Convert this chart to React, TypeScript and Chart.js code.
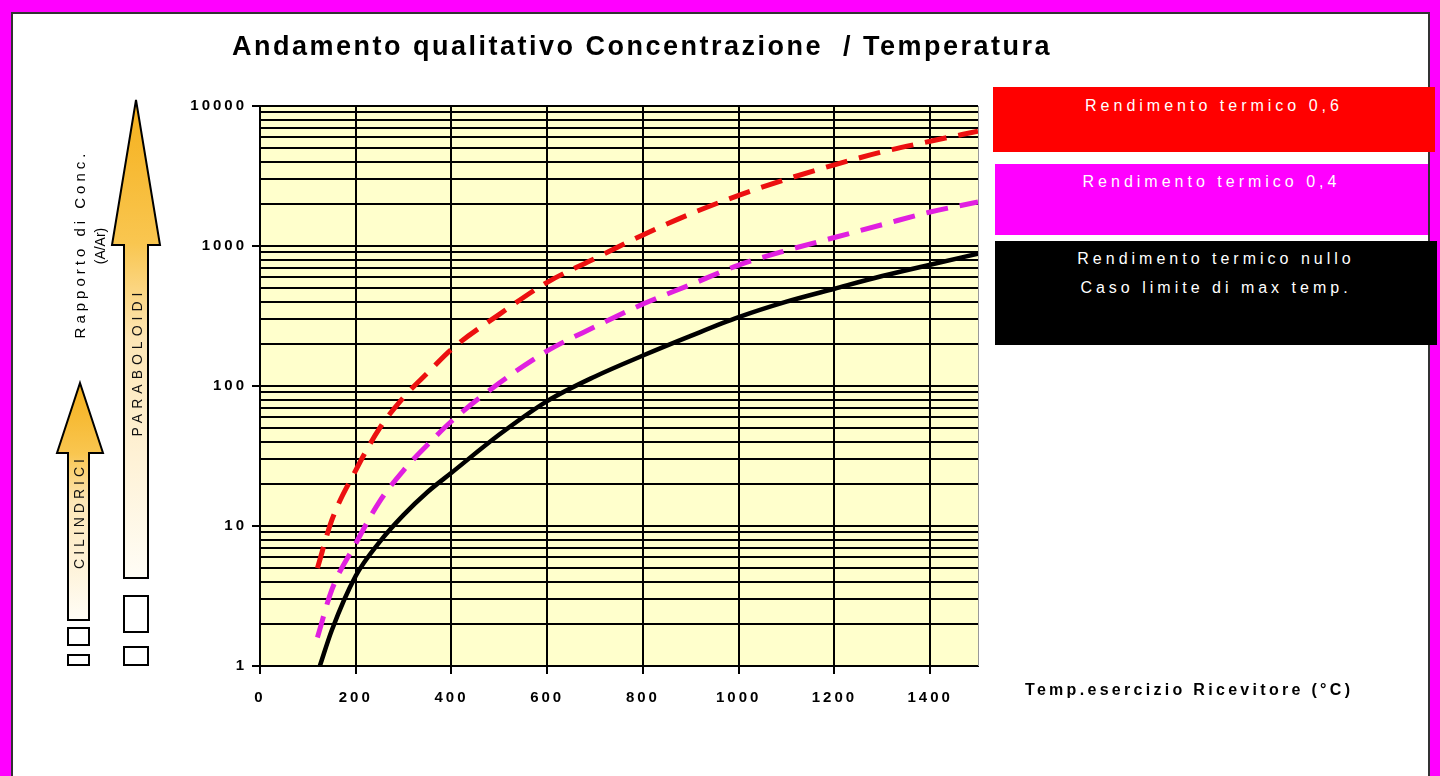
import React, { useEffect, useRef } from 'react';
import { Chart, registerables } from 'chart.js';

Chart.register(...registerables);

// ---- data ----
const tempsEff = [120, 150, 200, 250, 300, 350, 400, 500, 600, 700, 800, 900, 1000, 1100, 1200, 1300, 1400, 1500];
const rend06 = [5, 11, 25, 50, 83, 124, 183, 325, 550, 815, 1200, 1700, 2300, 3000, 3800, 4700, 5600, 6600];
const rend04 = [1.6, 3.5, 7.5, 15, 25, 38, 56, 105, 178, 265, 385, 530, 730, 930, 1150, 1420, 1750, 2060];
const tempsNull = [125, 150, 200, 250, 300, 350, 400, 500, 600, 700, 800, 900, 1000, 1100, 1200, 1300, 1400, 1500];
const rendNull = [1, 1.8, 4.4, 7.7, 12, 17.5, 24, 45, 78, 117, 165, 228, 310, 400, 495, 610, 735, 880];

const seriesLabels = ['Rendimento termico 0,6', 'Rendimento termico 0,4', 'Rendimento termico nullo'];
const seriesNotes = ['', '', 'Caso limite di max temp.'];
const legendColors = ['#ff0000', '#ff00ff', '#000000'];
const lineColors = ['#ec1010', '#e020e0', '#000000'];

const xTickLabels = [0, 200, 400, 600, 800, 1000, 1200, 1400];
const yTickLabels = [1, 10, 100, 1000, 10000];

const chartTitle = 'Andamento qualitativo Concentrazione  / Temperatura';
const xTitle = 'Temp.esercizio Ricevitore (°C)';
const yTitle = ['Rapporto di Conc.', '(A/Ar)'];
const arrowLabels = ['PARABOLOIDI', 'CILINDRICI'];

const FONT = '"Liberation Sans", Arial, sans-serif';

const isDecade = (v: number) => {
  const l = Math.log10(v);
  return Math.abs(l - Math.round(l)) < 1e-9;
};

const plotBg = {
  id: 'plotBg',
  beforeDraw(chart: any) {
    const { ctx, chartArea } = chart;
    const { left, top, right, bottom } = chartArea;
    ctx.save();
    ctx.fillStyle = '#ffffcc';
    ctx.fillRect(left, top, right - left, bottom - top);
    ctx.restore();
    (ctx as any).letterSpacing = '3px';
  },
  beforeDatasetsDraw(chart: any) {
    const { ctx, chartArea } = chart;
    const { top, right, bottom } = chartArea;
    ctx.save();
    ctx.strokeStyle = '#999';
    ctx.lineWidth = 1;
    ctx.beginPath();
    ctx.moveTo(right + 0.5, top);
    ctx.lineTo(right + 0.5, bottom);
    ctx.stroke();
    ctx.restore();
  },
};

function ChartCanvas() {
  const ref = useRef<HTMLCanvasElement | null>(null);
  useEffect(() => {
    if (!ref.current) return;
    const mk = (xs: number[], ys: number[]) => xs.map((x, i) => ({ x, y: ys[i] }));
    const chart = new Chart(ref.current, {
      type: 'line',
      data: {
        datasets: [
          {
            label: seriesLabels[2],
            data: mk(tempsNull, rendNull),
            borderColor: lineColors[2],
            borderWidth: 4.5,
            pointRadius: 0,
            cubicInterpolationMode: 'monotone',
          },
          {
            label: seriesLabels[1],
            data: mk(tempsEff, rend04),
            borderColor: lineColors[1],
            borderWidth: 5,
            borderDash: [22, 12],
            pointRadius: 0,
            cubicInterpolationMode: 'monotone',
          },
          {
            label: seriesLabels[0],
            data: mk(tempsEff, rend06),
            borderColor: lineColors[0],
            borderWidth: 5,
            borderDash: [22, 12],
            pointRadius: 0,
            cubicInterpolationMode: 'monotone',
          },
        ],
      },
      options: {
        animation: false,
        responsive: false,
        devicePixelRatio: 1,
        layout: { padding: { left: 0, top: 106, right: 462, bottom: 0 } },
        plugins: { legend: { display: false }, title: { display: false }, tooltip: { enabled: false } },
        events: [],
        scales: {
          x: {
            type: 'linear',
            min: 0,
            max: 1500,
            ticks: {
              stepSize: 200,
              includeBounds: false,
              autoSkip: false,
              maxRotation: 0,
              color: '#000',
              padding: 15,
              font: { family: FONT, size: 15, weight: 'bold' },
              callback: (v: any) => (xTickLabels.includes(Number(v)) ? String(v) : ''),
            },
            grid: { color: '#000', lineWidth: 2, tickLength: 8, tickColor: '#000', tickWidth: 2 },
            border: { color: '#000', width: 2 },
            afterFit: (s: any) => {
              s.height = 110;
            },
          },
          y: {
            type: 'logarithmic',
            min: 1,
            max: 10000,
            afterBuildTicks: (s: any) => {
              s.ticks = s.ticks.filter((t: any) => {
                const m = t.value / Math.pow(10, Math.floor(Math.log10(t.value) + 1e-9));
                return Math.abs(m - Math.round(m)) < 1e-6;
              });
            },
            ticks: {
              autoSkip: false,
              color: '#000',
              padding: 5,
              font: { family: FONT, size: 15, weight: 'bold' },
              callback: (v: any) => (yTickLabels.includes(Number(v)) && isDecade(Number(v)) ? String(v) : ''),
            },
            grid: {
              color: '#000',
              lineWidth: 2,
              tickLength: 8,
              tickWidth: 2,
              tickColor: (c: any) => (c.tick && isDecade(c.tick.value) ? '#000' : 'rgba(0,0,0,0)'),
            },
            border: { color: '#000', width: 2 },
            afterFit: (s: any) => {
              s.width = 260;
            },
          },
        },
      } as any,
      plugins: [plotBg],
    });
    return () => chart.destroy();
  }, []);
  return (
    <canvas
      ref={ref}
      width={1440}
      height={776}
      style={{ position: 'absolute', left: 0, top: 0, width: 1440, height: 776 }}
    />
  );
}

export default function App() {
  const legendBoxes = [
    { left: 993, top: 87, width: 442, height: 65, padTop: 4 },
    { left: 995, top: 164, width: 433, height: 71, padTop: 3 },
    { left: 995, top: 241, width: 442, height: 104, padTop: 3 },
  ];
  return (
    <div
      style={{
        position: 'fixed',
        left: 0,
        top: 0,
        width: 1440,
        height: 776,
        background: '#ff00ff',
        overflow: 'hidden',
        fontFamily: FONT,
      }}
    >
      <div
        style={{
          position: 'absolute',
          left: 11,
          top: 12,
          width: 1419,
          height: 800,
          background: '#ffffff',
          border: '2px solid #333',
          boxSizing: 'border-box',
        }}
      />
      <ChartCanvas />
      <div
        style={{
          position: 'absolute',
          left: 232,
          top: 31,
          fontSize: 27,
          lineHeight: '30px',
          fontWeight: 'bold',
          letterSpacing: '2.5px',
          whiteSpace: 'pre',
          color: '#000',
        }}
      >
        {chartTitle}
      </div>
      {legendBoxes.map((b, i) => (
        <div
          key={i}
          style={{
            position: 'absolute',
            left: b.left,
            top: b.top,
            width: b.width,
            height: b.height,
            background: legendColors[i],
            color: '#fff',
            fontSize: 16,
            lineHeight: '29px',
            letterSpacing: '4px',
            textAlign: 'center',
            paddingTop: b.padTop,
            boxSizing: 'border-box',
          }}
        >
          <div>{seriesLabels[i]}</div>
          {seriesNotes[i] ? <div>{seriesNotes[i]}</div> : null}
        </div>
      ))}
      <div
        style={{
          position: 'absolute',
          left: 1025,
          top: 680,
          fontSize: 16,
          lineHeight: '20px',
          fontWeight: 'bold',
          letterSpacing: '3.3px',
          whiteSpace: 'pre',
          color: '#000',
        }}
      >
        {xTitle}
      </div>
      <svg width={1440} height={776} style={{ position: 'absolute', left: 0, top: 0 }}>
        <defs>
          <linearGradient id="arrowGrad" x1="0" y1="0" x2="0" y2="1">
            <stop offset="0" stopColor="#f5b01c" />
            <stop offset="0.3" stopColor="#f9c650" />
            <stop offset="0.5" stopColor="#fde6b6" />
            <stop offset="1" stopColor="#fffdf6" />
          </linearGradient>
        </defs>
        <polygon
          points="136,100 160,245 148,245 148,578 124,578 124,245 112,245"
          fill="url(#arrowGrad)"
          stroke="#000"
          strokeWidth={2}
        />
        <polygon
          points="80,383 103,453 89,453 89,620 68,620 68,453 57,453"
          fill="url(#arrowGrad)"
          stroke="#000"
          strokeWidth={2}
        />
        <rect x={124} y={596} width={24} height={36} fill="#fff" stroke="#000" strokeWidth={2} />
        <rect x={124} y={647} width={24} height={18} fill="#fff" stroke="#000" strokeWidth={2} />
        <rect x={68} y={628} width={21} height={17} fill="#fff" stroke="#000" strokeWidth={2} />
        <rect x={68} y={655} width={21} height={10} fill="#fff" stroke="#000" strokeWidth={2} />
        <text
          transform="translate(137,362) rotate(-90)"
          textAnchor="middle"
          dominantBaseline="central"
          fontSize={14}
          letterSpacing={5}
          fontFamily={FONT}
          fill="#111"
        >
          {arrowLabels[0]}
        </text>
        <text
          transform="translate(79,512) rotate(-90)"
          textAnchor="middle"
          dominantBaseline="central"
          fontSize={14}
          letterSpacing={4}
          fontFamily={FONT}
          fill="#111"
        >
          {arrowLabels[1]}
        </text>
        <text
          transform="translate(79,244) rotate(-90)"
          textAnchor="middle"
          dominantBaseline="central"
          fontSize={15}
          letterSpacing={4}
          fontFamily={FONT}
          fill="#000"
        >
          {yTitle[0]}
        </text>
        <text
          transform="translate(100,246) rotate(-90)"
          textAnchor="middle"
          dominantBaseline="central"
          fontSize={14}
          fontFamily={FONT}
          fill="#000"
        >
          {yTitle[1]}
        </text>
      </svg>
    </div>
  );
}
